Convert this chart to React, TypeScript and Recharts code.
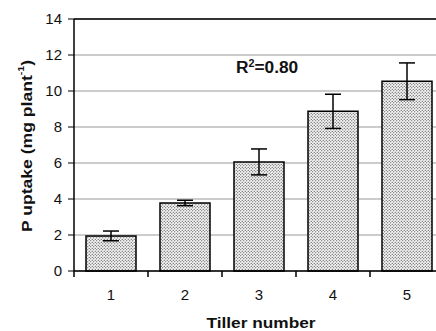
import React from "react";
import {
  BarChart,
  Bar,
  XAxis,
  YAxis,
  CartesianGrid,
  ErrorBar,
  ReferenceLine,
} from "recharts";

const tillers = ["1", "2", "3", "4", "5"];
const uptake = [1.95, 3.78, 6.06, 8.87, 10.54];
const uptakeErr = [0.27, 0.15, 0.72, 0.95, 1.02];
const yTicks = [0, 2, 4, 6, 8, 10, 12, 14];
// tick marks sit between the categories
const edgeTicks = [0.5, 1.5, 2.5, 3.5, 4.5];

const data = tillers.map((t, i) => ({ tiller: t, pos: i + 1, uptake: uptake[i], err: uptakeErr[i] }));

const FONT = "'Liberation Sans', Arial, sans-serif";

const XTick = (props: any) => {
  const { x, payload } = props;
  return (
    <text x={x} y={300} textAnchor="middle" fontSize={15} fontFamily={FONT} fill="#111">
      {payload.value}
    </text>
  );
};

const EdgeTick = (props: any) => {
  const { x } = props;
  return <rect x={Number(x) - 0.75} y={271} width={1.5} height={6} fill="#000" />;
};

const YTitle = () => {
  const cx = 26;
  const cy = 146;
  return (
    <text
      x={cx}
      y={cy}
      transform={`rotate(-90 ${cx} ${cy})`}
      textAnchor="middle"
      dominantBaseline="central"
      fontSize={15}
      fontWeight="bold"
      fontFamily={FONT}
      fill="#111"
      textLength={172}
      lengthAdjust="spacingAndGlyphs"
    >
      P uptake (mg plant
      <tspan baselineShift="super" fontSize={9}>-1</tspan>
      <tspan baselineShift="0">)</tspan>
    </text>
  );
};

const XTitle = () => (
  <text
    x={261}
    y={328}
    textAnchor="middle"
    fontSize={15}
    fontWeight="bold"
    fontFamily={FONT}
    fill="#111"
    textLength={109}
    lengthAdjust="spacingAndGlyphs"
  >
    Tiller number
  </text>
);

export default function App() {
  return (
    <div style={{ position: "absolute", left: 0, top: 0, width: 436, height: 331, overflow: "hidden", background: "#fff" }}>
      <BarChart
        width={450}
        height={331}
        data={data}
        margin={{ top: 19, right: 6, left: 0, bottom: 0 }}
        barCategoryGap={12}
      >
        <defs>
          <pattern id="dots" width="3" height="3" patternUnits="userSpaceOnUse">
            <rect width="3" height="3" fill="#f4f4f4" />
            <circle cx="0.75" cy="0.75" r="0.6" fill="#333" />
            <circle cx="2.25" cy="2.25" r="0.6" fill="#333" />
          </pattern>
        </defs>
        <CartesianGrid vertical={false} stroke="#999" strokeWidth={1} />
        <ReferenceLine y={14} stroke="#000" strokeWidth={1.5} />
        <XAxis
          xAxisId="edges"
          type="number"
          dataKey="pos"
          domain={[0.5, 5.5]}
          ticks={edgeTicks}
          interval={0}
          allowDataOverflow
          height={1}
          axisLine={false}
          tickLine={false}
          tick={<EdgeTick />}
        />
        <XAxis
          dataKey="tiller"
          height={59}
          axisLine={{ stroke: "#000", strokeWidth: 1.5 }}
          tickLine={false}
          tick={<XTick />}
          interval={0}
          label={<XTitle />}
        />
        <YAxis
          width={74}
          domain={[0, 14]}
          ticks={yTicks}
          interval={0}
          axisLine={{ stroke: "#000", strokeWidth: 1.5 }}
          tickLine={{ stroke: "#000" }}
          tickSize={6}
          tickMargin={6}
          tick={{ fontSize: 15, fontFamily: FONT, fill: "#111" }}
          label={<YTitle />}
        />
        <Bar dataKey="uptake" fill="url(#dots)" stroke="#000" strokeWidth={1.5} isAnimationActive={false}>
          <ErrorBar dataKey="err" width={8} stroke="#000" strokeWidth={1.5} />
        </Bar>
      </BarChart>
      <div
        style={{
          position: "absolute",
          left: 236,
          top: 60,
          fontFamily: FONT,
          fontWeight: "bold",
          fontSize: 16,
          color: "#111",
          lineHeight: "16px",
          whiteSpace: "nowrap",
          transform: "scaleX(1.08)",
          transformOrigin: "left center",
        }}
      >
        R<span style={{ fontSize: 10, position: "relative", top: -6 }}>2</span>=0.80
      </div>
    </div>
  );
}
